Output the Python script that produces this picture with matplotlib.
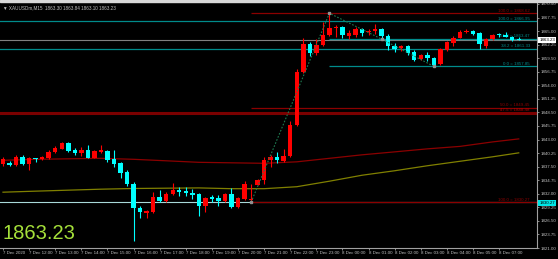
import numpy as np
import matplotlib.pyplot as plt
from matplotlib.patches import Rectangle

plt.rcParams['font.family'] = ['Liberation Sans', 'DejaVu Sans']

# XAUUSD M15 - świece
opens = [1837.98, 1838.32, 1837.84, 1839.49, 1837.98, 1839.19, 1838.99, 1839.19, 1840.46, 1841.15,
         1842.36, 1840.81, 1840.34, 1840.87, 1839.33, 1840.46, 1840.67, 1838.99, 1838.18, 1836.42,
         1834.08, 1829.09, 1828.08, 1828.34, 1831.25, 1830.56, 1831.92, 1832.79, 1832.59, 1832.18,
         1831.86, 1829.50, 1831.25, 1831.11, 1830.56, 1831.92, 1829.36, 1830.91, 1830.81, 1833.88,
         1834.75, 1838.79, 1839.45, 1838.65, 1839.66, 1845.86, 1856.62, 1862.36, 1860.54, 1862.08,
         1864.24, 1865.59, 1865.79, 1864.10, 1864.24, 1865.45, 1864.78, 1864.99, 1865.33, 1864.10,
         1862.02, 1861.47, 1861.96, 1860.74, 1859.33, 1860.20, 1859.53, 1858.38, 1861.21, 1862.56,
         1863.69, 1864.85, 1865.05, 1864.58, 1861.92, 1863.43, 1864.34, 1864.30, 1863.90, 1863.30]
highs = [1839.39, 1838.58, 1839.80, 1839.80, 1839.39, 1839.25, 1839.69, 1840.87, 1841.61, 1842.42,
         1842.56, 1841.35, 1841.47, 1841.88, 1840.91, 1841.88, 1840.91, 1840.81, 1838.38, 1836.77,
         1834.34, 1829.50, 1828.69, 1832.38, 1832.73, 1832.38, 1834.28, 1833.47, 1833.47, 1832.93,
         1832.12, 1831.41, 1831.72, 1831.72, 1832.12, 1833.27, 1831.31, 1834.61, 1833.94, 1835.05,
         1839.45, 1839.80, 1840.40, 1841.15, 1846.73, 1857.37, 1863.69, 1862.77, 1863.43, 1866.93,
         1868.62, 1866.26, 1866.06, 1865.25, 1865.76, 1865.65, 1865.45, 1866.46, 1865.55, 1864.34,
         1862.68, 1862.22, 1862.22, 1861.21, 1860.40, 1860.74, 1859.80, 1861.61, 1863.03, 1863.94,
         1865.15, 1865.39, 1865.25, 1864.85, 1863.63, 1864.44, 1864.70, 1864.91, 1864.10, 1863.84]
lows = [1837.57, 1837.57, 1837.57, 1837.78, 1836.83, 1838.44, 1838.79, 1838.99, 1840.30, 1841.01,
        1840.51, 1839.86, 1839.66, 1839.19, 1839.19, 1840.20, 1838.44, 1837.37, 1835.15, 1833.53,
        1822.50, 1827.13, 1827.01, 1828.18, 1830.24, 1830.40, 1831.72, 1831.58, 1831.58, 1830.91,
        1827.53, 1828.34, 1830.24, 1829.56, 1830.40, 1829.09, 1829.09, 1830.71, 1830.27, 1833.74,
        1834.08, 1837.37, 1838.18, 1838.48, 1839.49, 1845.66, 1856.46, 1859.86, 1860.20, 1861.92,
        1864.04, 1863.90, 1863.57, 1863.37, 1863.77, 1864.04, 1864.24, 1864.38, 1863.37, 1861.21,
        1860.74, 1861.01, 1860.20, 1858.85, 1859.09, 1858.99, 1857.84, 1858.18, 1861.01, 1861.88,
        1863.53, 1864.58, 1864.14, 1861.41, 1861.67, 1863.23, 1863.90, 1863.77, 1862.99, 1863.10]
closes = [1838.99, 1837.84, 1839.49, 1838.12, 1839.19, 1838.99, 1839.45, 1840.46, 1841.27, 1842.22,
          1840.67, 1840.34, 1840.81, 1839.33, 1840.67, 1840.81, 1838.85, 1837.98, 1836.30, 1834.04,
          1829.03, 1828.22, 1828.42, 1831.25, 1830.56, 1831.92, 1832.73, 1832.38, 1832.12, 1831.72,
          1829.56, 1831.17, 1830.85, 1830.56, 1831.92, 1829.36, 1831.05, 1833.94, 1831.01, 1834.81,
          1838.79, 1839.53, 1838.79, 1839.74, 1845.92, 1856.71, 1862.36, 1860.54, 1862.08, 1864.24,
          1865.59, 1865.92, 1864.24, 1864.58, 1865.45, 1864.58, 1865.11, 1865.33, 1864.04, 1862.02,
          1861.41, 1861.96, 1860.54, 1859.19, 1860.20, 1859.53, 1858.18, 1861.35, 1862.76, 1863.69,
          1864.91, 1865.05, 1864.38, 1862.36, 1863.37, 1864.18, 1864.24, 1863.90, 1863.23, 1863.23]

# średnie kroczące (co 5 świec)
ma_idx = [0, 5, 10, 15, 20, 25, 30, 35, 40, 45, 50, 55, 60, 65, 70, 75, 79]
ma_red = [1838.79, 1838.99, 1839.09, 1839.19, 1838.99, 1838.69, 1838.38, 1838.28, 1838.18,
          1838.48, 1839.19, 1839.90, 1840.50, 1841.11, 1841.61, 1842.52, 1843.13]
ma_olive = [1832.32, 1832.53, 1832.73, 1832.93, 1833.07, 1833.13, 1833.19, 1833.03, 1833.03,
            1833.43, 1834.55, 1835.76, 1836.67, 1837.68, 1838.59, 1839.50, 1840.30]

# zigzag
zz_idx = [38, 50, 58, 66]
zz_val = [1830.27, 1868.62, 1863.37, 1857.84]

# poziomy fibo: (cena, opis, kolor, indeks startu)
levels = [(1868.62, '100.0 = 1868.62', '#8b0000', 38),
          (1866.95, '100.0 = 1866.95', '#008b8b', None),
          (1863.47, '61.8 = 1863.47', '#008b8b', 50),
          (1861.33, '38.2 = 1861.33', '#008b8b', None),
          (1857.85, '0.0 = 1857.85', '#008b8b', 50),
          (1849.45, '50.0 = 1849.45', '#8b0000', 38),
          (1830.27, '100.0 = 1830.27', '#8b0000', 38)]

xlabels = ['7 Dec 2020', '7 Dec 12:00', '7 Dec 13:00', '7 Dec 14:00', '7 Dec 15:00', '7 Dec 16:00',
           '7 Dec 17:00', '7 Dec 18:00', '7 Dec 19:00', '7 Dec 20:00', '7 Dec 21:00', '7 Dec 22:00',
           '7 Dec 23:00', '8 Dec 00:00', '8 Dec 01:00', '8 Dec 02:00', '8 Dec 03:00', '8 Dec 04:00',
           '8 Dec 05:00', '8 Dec 07:00']
yticks = [1821.00 + 2.75 * k for k in range(19)]

bid = closes[-1]
fg = '#c0c0c0'
y0, y1 = 1821.2, 1870.9

fig = plt.figure(figsize=(5.58, 2.59), dpi=100, facecolor='black')
ax = fig.add_axes([0, 11 / 259, 537 / 558, 246 / 259])
ax.set_facecolor('black')
fig.add_artist(Rectangle((0, 1 - 2 / 259), 1, 2 / 259, transform=fig.transFigure, color='#d8d8d8'))

x = np.arange(len(opens))
o = np.array(opens)
c = np.array(closes)
cols = ['#ff0000' if cc >= oo else '#00ffff' for oo, cc in zip(o, c)]

# linie poziome
ax.axhline(1848.48, color='#7a0000', lw=2.2, zorder=1)
ax.axhline(1830.27, color='#a8d8d8', lw=0.8, zorder=1)
ax.axhline(bid, color='#808080', lw=0.8, zorder=1)
for price, txt, col, start in levels:
    if start is None:
        ax.axhline(price, color=col, lw=0.9, zorder=1)
    else:
        ax.hlines(price, start, 82, color=col, lw=0.9, zorder=1)
    ax.text(80.7, price + 0.15, txt, color=col, fontsize=3.2, ha='right', va='bottom')
ax.text(80.7, 1848.65, '47.5 = 1848.48', color='#b00000', fontsize=3.2, ha='right', va='bottom')

ax.plot(ma_idx, ma_red, color='#8b0000', lw=0.9, zorder=2)
ax.plot(ma_idx, ma_olive, color='#808000', lw=0.9, zorder=2)

# świece
ax.vlines(x, lows, highs, colors=cols, lw=0.8, zorder=3)
h = np.maximum(np.abs(c - o), 0.12)
ax.bar(x, h, bottom=np.minimum(o, c), width=0.68, color=cols, zorder=4)

ax.plot(zz_idx, zz_val, color='#1e7a50', lw=0.8, ls=(0, (1.5, 1.5)), zorder=5)
ax.plot(zz_idx, zz_val, 's', color='#909090', ms=1.5, zorder=5)

ax.set_xlim(-0.46, 81.8)
ax.set_ylim(y0, y1)

ax.yaxis.tick_right()
ax.set_yticks(yticks)
ax.set_yticklabels(['%.2f' % v for v in yticks])
ax.set_xticks(range(0, 80, 4))
ax.set_xticklabels(xlabels, ha='left')
ax.tick_params(colors=fg, labelsize=3.2, length=1.5, width=0.5, pad=0.8)
for s in ['top', 'left']:
    ax.spines[s].set_visible(False)
for s in ['bottom', 'right']:
    ax.spines[s].set_color('#a0a0a0')
    ax.spines[s].set_linewidth(0.8)

# etykiety cen na osi
ax.text(1.004, (bid - y0) / (y1 - y0), '%.2f' % bid, transform=ax.transAxes,
        fontsize=3.2, color='black', va='center', ha='left',
        bbox=dict(boxstyle='square,pad=0.2', fc='white', ec='none'))
ax.text(1.004, (1830.27 - y0) / (y1 - y0), '1830.27', transform=ax.transAxes,
        fontsize=3.2, color='black', va='center', ha='left',
        bbox=dict(boxstyle='square,pad=0.2', fc='#00e5e5', ec='none'))

ax.text(0.005, 0.985, '\u25bc XAUUSDm,M15  1863.30 1863.84 1863.10 1863.23', transform=ax.transAxes,
        fontsize=3.3, color=fg, va='top', ha='left')
ax.text(0.004, 0.02, '%.2f' % bid, transform=ax.transAxes, fontsize=14.5, color='#a5e03a',
        va='bottom', ha='left')

fig.savefig('out.png', dpi=100, facecolor='black')
